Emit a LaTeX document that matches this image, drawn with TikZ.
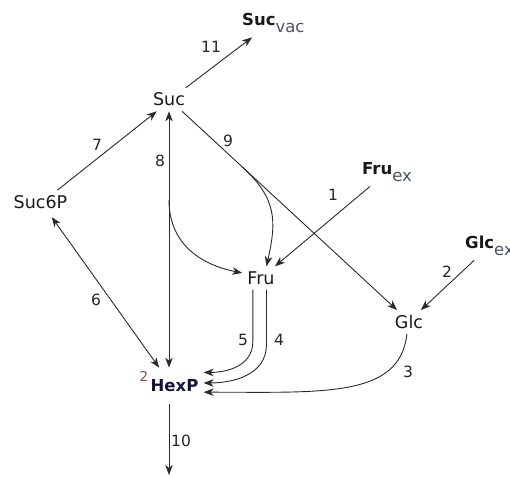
\documentclass[tikz,border=0pt]{standalone}
\usepackage{fontspec}
\setmainfont{DejaVu Sans}
\usetikzlibrary{arrows.meta, calc, positioning}

\definecolor{linec}{HTML}{2A2A2A}
\definecolor{subc}{HTML}{4A5168}
\definecolor{supc}{HTML}{8C4A38}
\definecolor{hexc}{HTML}{14143A}

% lowered, full size subscript of the pool names
\newcommand{\subtx}[1]{{\normalfont\fontsize{16.5}{20}\selectfont\color{subc}\raisebox{-7pt}{#1}}}

\begin{document}
\begin{tikzpicture}[x=1pt, y=1pt, >={Stealth[length=10pt,width=7.5pt,inset=3pt]},
    met/.style={inner sep=5pt, font=\fontsize{17.5}{21}\selectfont, text=black!90},
    pool/.style={inner sep=5pt, anchor=base west, font=\fontsize{16.5}{20}\selectfont\bfseries, text=black!90},
    num/.style={inner sep=0pt, font=\fontsize{15.5}{18}\selectfont, text=black!85},
    supnum/.style={inner sep=0pt, font=\fontsize{13.5}{16}\selectfont, text=supc},
    flux/.style={draw=linec, line width=0.9pt}]

    \path[use as bounding box, fill=white] (0,0) rectangle (510,-477);

    % Metabolites
    \node[met] (suc) at (169,-99.5) {Suc};
    \node[met] (suc6p) at (40.5,-202) {Suc6P};
    \node[met] (fru) at (261,-278) {Fru};
    \node[met] (glc) at (409,-322) {Glc};
    \node[met, font=\fontsize{16.5}{20}\selectfont\bfseries, text=hexc, inner ysep=12pt] (hexp) at (174.5,-386) {HexP};
    \node[supnum] (hexp2) at (144,-376.5) {2};

    % External and vacuolar pools
    \node[pool] (sucvac) at (237,-25) {Suc\subtx{vac}};
    \node[pool] (fruex) at (357,-174) {Fru\subtx{ex}};
    \node[pool] (glcex) at (460,-248) {Glc\subtx{ex}};

    % Branch points and outflow
    \coordinate (sink) at (169,-475);
    \coordinate (b8) at (suc.south |- 0,-200);
    \coordinate (b9) at ($(suc.-42)!0.28!(glc.135)$);

    % Reactions
    \draw[flux, ->] (suc.35) -- ([xshift=15pt]sucvac.south west);
    \draw[flux, ->] (suc6p.35) -- (suc.224);
    \draw[flux, <->, shorten <=4pt] (suc6p.-53) -- (hexp.130);
    \draw[flux, <->] (suc.south) -- (suc.south |- hexp.north);
    \draw[flux, ->] (b8) .. controls +(0,-45) and +(-40,8) .. (fru.165);
    \draw[flux, ->] (suc.-42) -- (glc.135);
    \draw[flux, ->] (b9) .. controls +(35,-32) and +(10,45) .. (fru.65);
    \draw[flux, ->] ([xshift=13pt]fruex.south west) -- (fru.40);
    \draw[flux, ->] ([xshift=14pt]glcex.south west) -- (glc.45);
    \draw[flux, ->] (fru.-125) -- ++(0,-52) .. controls +(0,-25) and +(22,0) .. (hexp.25);
    \draw[flux, ->] (fru.-65) -- ++(0,-55) .. controls +(0,-30) and +(30,0) .. (hexp.6);
    \draw[flux, ->] (glc.-100) .. controls +(-7,-64) and +(120,0) .. (hexp.-12);
    \draw[flux, ->] (hexp.south -| sink) -- (sink);

    % Reaction numbers
    \node[num] (n1) at (333,-195) {1};
    \node[num] (n2) at (447,-272) {2};
    \node[num] (n3) at (408,-372) {3};
    \node[num] (n4) at (279,-340) {4};
    \node[num] (n5) at (243,-340) {5};
    \node[num] (n6) at (96,-300) {6};
    \node[num] (n7) at (97,-145) {7};
    \node[num] (n8) at (160,-161) {8};
    \node[num] (n9) at (228,-141) {9};
    \node[num] (n10) at (181,-441) {10};
    \node[num] (n11) at (211,-47) {11};

\end{tikzpicture}
\end{document}
